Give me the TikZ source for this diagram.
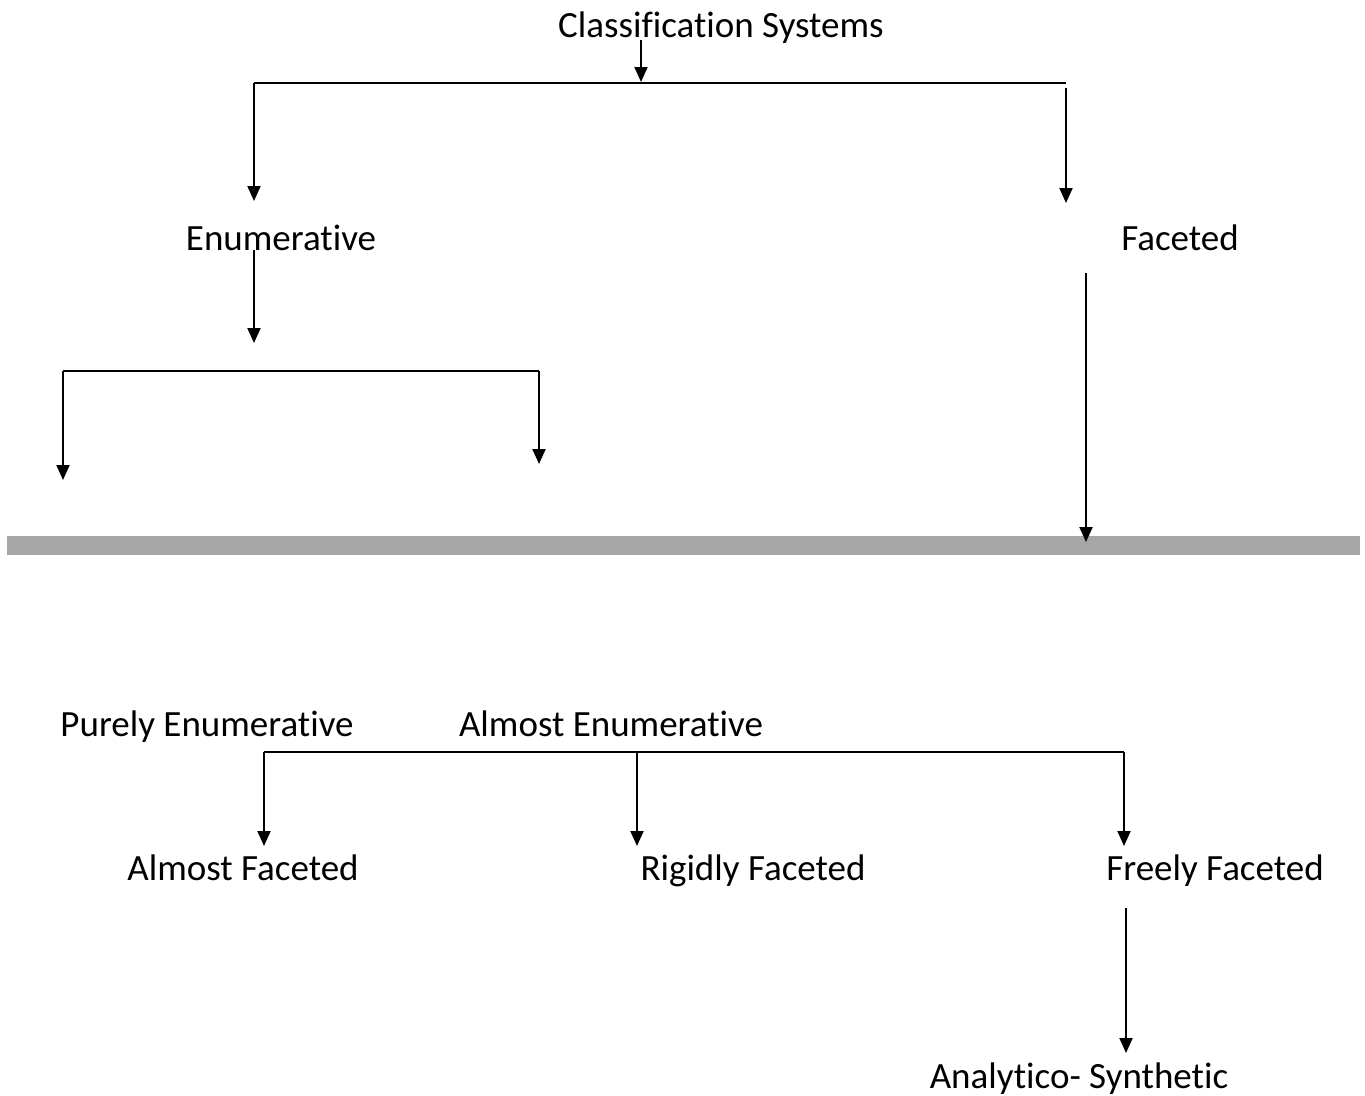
\documentclass[tikz,border=0pt]{standalone}
\usepackage{fontspec}
\setmainfont[Ligatures=NoCommon]{Carlito}
\usetikzlibrary{arrows.meta}
\begin{document}
\begin{tikzpicture}[x=1pt,y=-1pt,
  lbl/.style={inner sep=0pt,font=\fontsize{37}{44}\selectfont,text height=26pt,text depth=7pt},
  conn/.style={line width=2pt},
  arr/.style={conn,-{Triangle[width=13pt,length=15pt]}}]
\useasboundingbox (0,0) rectangle (1365,1095);
% texts
\node[lbl] (cs) at (721,28) {Classification Systems};
\node[lbl] (en) at (281,241) {Enumerative};
\node[lbl] (fa) at (1180,241) {Faceted};
\node[lbl] (pe) at (207,727) {Purely Enumerative};
\node[lbl] (ae) at (611,727) {Almost Enumerative};
\node[lbl] (af) at (243,871) {Almost Faceted};
\node[lbl] (rf) at (753,871) {Rigidly Faceted};
\node[lbl] (ff) at (1215,871) {Freely Faceted};
\node[lbl] (as) at (1079,1079) {Analytico- Synthetic};
% gray bar
\fill[fill={rgb,255:red,166;green,166;blue,166}] (7,536) rectangle (1360,555);
% coordinates
\coordinate (t1) at (641,40);
\coordinate (t1e) at (641,82);
\coordinate (b1l) at (254,83);
\coordinate (b1r) at (1066,83);
\coordinate (b1re) at (1066,88);
\coordinate (e1) at (254,201);
\coordinate (e2) at (1066,203);
\coordinate (en1) at (254,250);
\coordinate (en2) at (254,343);
\coordinate (b2l) at (63,371);
\coordinate (b2r) at (539,371);
\coordinate (e3) at (63,480);
\coordinate (e4) at (539,464);
\coordinate (fa1) at (1086,273);
\coordinate (fa2) at (1086,542);
\coordinate (b3l) at (264,752);
\coordinate (b3m) at (637,752);
\coordinate (b3r) at (1124,752);
\coordinate (e5) at (264,846);
\coordinate (e6) at (637,846);
\coordinate (e7) at (1124,846);
\coordinate (ff1) at (1126,908);
\coordinate (ff2) at (1126,1053);
% connectors
\draw[arr] (t1) -- (t1e);
\draw[conn] (b1l) -- (b1r);
\draw[arr] (b1l) -- (e1);
\draw[arr] (b1re) -- (e2);
\draw[arr] (en1) -- (en2);
\draw[conn] (b2l) -- (b2r);
\draw[arr] (b2l) -- (e3);
\draw[arr] (b2r) -- (e4);
\draw[arr] (fa1) -- (fa2);
\draw[conn] (b3l) -- (b3r);
\draw[arr] (b3l) -- (e5);
\draw[arr] (b3m) -- (e6);
\draw[arr] (b3r) -- (e7);
\draw[arr] (ff1) -- (ff2);
\end{tikzpicture}
\end{document}
